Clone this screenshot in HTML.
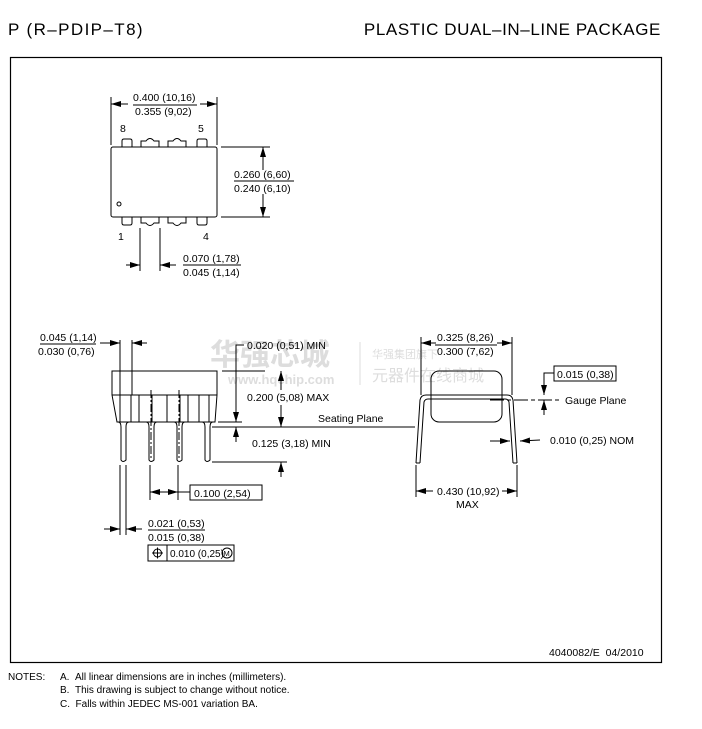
<!DOCTYPE html>
<html><head><meta charset="utf-8"><style>
html,body{margin:0;padding:0;background:#fff;}
svg{display:block;font-family:"Liberation Sans",sans-serif;}
text{fill:#000;font-size:10.5px;}
.h{font-size:17px;letter-spacing:1.2px;}
.wm{fill:#ddd;font-family:"Liberation Sans","Noto Sans CJK SC",sans-serif;}
</style></head><body>
<svg width="702" height="729" viewBox="0 0 702 729" xmlns="http://www.w3.org/2000/svg">
<defs>
<marker id="a" markerWidth="10" markerHeight="6" refX="10" refY="3" orient="auto" markerUnits="userSpaceOnUse"><path d="M0,0 L10,3 L0,6z" fill="#000"/></marker>
</defs>
<text class="h" x="8" y="35" style="letter-spacing:1.4px">P (R–PDIP–T8)</text>
<text class="h" x="661" y="35" text-anchor="end" style="letter-spacing:0.6px">PLASTIC DUAL–IN–LINE PACKAGE</text>
<rect x="10.5" y="57.5" width="651" height="605" fill="none" stroke="#000" stroke-width="1.2"/>

<!-- watermark -->
<text class="wm" x="210" y="365" style="font-size:30px;font-weight:bold">华强芯城</text>
<text class="wm" x="228" y="384" style="font-size:13px;font-weight:bold">www.hqchip.com</text>
<line x1="360" y1="342" x2="360" y2="385" stroke="#ddd"/>
<text class="wm" x="372" y="358" style="font-size:11px">华强集团旗下</text>
<text class="wm" x="372" y="381" style="font-size:16px">元器件在线商城</text>

<g fill="none" stroke="#000" stroke-width="1">
<!-- top view -->
<rect x="111" y="147" width="106" height="70" rx="2"/>
<path d="M122,147 v-6 q0,-2 2,-2 h6 q2,0 2,2 v6"/>
<path d="M141,147 v-6 h5 q4,-5 8,0 h5 v6"/>
<path d="M168,147 v-6 h5 q4,-5 8,0 h5 v6"/>
<path d="M197,147 v-6 q0,-2 2,-2 h6 q2,0 2,2 v6"/>
<path d="M122,217 v6 q0,2 2,2 h6 q2,0 2,-2 v-6"/>
<path d="M141,217 v6 h5 q4,5 8,0 h5 v-6"/>
<path d="M168,217 v6 h5 q4,5 8,0 h5 v-6"/>
<path d="M197,217 v6 q0,2 2,2 h6 q2,0 2,-2 v-6"/>
<circle cx="119" cy="204" r="2"/>
<line x1="111" y1="97" x2="111" y2="145"/><line x1="217" y1="97" x2="217" y2="145"/>
<line x1="128" y1="104" x2="111" y2="104" marker-end="url(#a)"/>
<line x1="200" y1="104" x2="217" y2="104" marker-end="url(#a)"/>
<line x1="221" y1="147" x2="270" y2="147"/><line x1="221" y1="217" x2="270" y2="217"/>
<line x1="263" y1="170" x2="263" y2="147" marker-end="url(#a)"/>
<line x1="263" y1="194" x2="263" y2="217" marker-end="url(#a)"/>
<line x1="140" y1="228" x2="140" y2="271"/><line x1="160" y1="228" x2="160" y2="271"/>
<line x1="126" y1="265" x2="140" y2="265" marker-end="url(#a)"/>
<line x1="176" y1="265" x2="160" y2="265" marker-end="url(#a)"/>
<line x1="133" y1="105" x2="197" y2="105"/>
<line x1="234" y1="181" x2="294" y2="181"/>
<line x1="183" y1="265" x2="241" y2="265"/>

<!-- side view -->
<path d="M112,371 H217 V395 L215,422 H117 L112,395 Z"/>
<line x1="112" y1="395" x2="217" y2="395"/>
<path d="M120,395 V422 M131,395 V422 M139,395 V422 M152,395 V422 M167,395 V422 M180,395 V422 M188,395 V422 M199,395 V422 M209,395 V422"/>
<path d="M118,422 q3,0 3,5 V460 q2,3 5,0 V427 q0,-5 3,-5"/>
<path d="M146,422 q3,0 3,5 V460 q2,3 5,0 V427 q0,-5 3,-5"/>
<path d="M174,422 q3,0 3,5 V460 q2,3 5,0 V427 q0,-5 3,-5"/>
<path d="M202,422 q3,0 3,5 V460 q2,3 5,0 V427 q0,-5 3,-5"/>
<line x1="151" y1="390" x2="151" y2="460" stroke-dasharray="8,2,2,2"/>
<line x1="179" y1="390" x2="179" y2="460" stroke-dasharray="8,2,2,2"/>
<line x1="120" y1="340" x2="120" y2="395"/><line x1="132" y1="340" x2="132" y2="395"/>
<line x1="100" y1="343" x2="120" y2="343" marker-end="url(#a)"/>
<line x1="147" y1="343" x2="132" y2="343" marker-end="url(#a)"/>
<line x1="40" y1="344" x2="96" y2="344"/>
<path d="M244,345 H236 V422" marker-end="url(#a)"/>
<line x1="222" y1="371" x2="265" y2="371"/>
<line x1="218" y1="422" x2="242" y2="422"/>
<line x1="212" y1="427" x2="415" y2="427"/>
<line x1="281" y1="390" x2="281" y2="371" marker-end="url(#a)"/>
<line x1="281" y1="405" x2="281" y2="427" marker-end="url(#a)"/>
<line x1="236" y1="442" x2="236" y2="427" marker-end="url(#a)"/>
<line x1="212" y1="462" x2="287" y2="462"/>
<line x1="281" y1="477" x2="281" y2="462" marker-end="url(#a)"/>
<line x1="150" y1="465" x2="150" y2="500"/><line x1="178" y1="465" x2="178" y2="500"/>
<line x1="164" y1="492" x2="150" y2="492" marker-end="url(#a)"/>
<line x1="164" y1="492" x2="178" y2="492" marker-end="url(#a)"/>
<line x1="178" y1="492" x2="190" y2="492"/>
<rect x="190" y="485" width="72" height="15"/>
<line x1="120" y1="465" x2="120" y2="535"/><line x1="126" y1="465" x2="126" y2="535"/>
<line x1="104" y1="529" x2="120" y2="529" marker-end="url(#a)"/>
<line x1="142" y1="529" x2="126" y2="529" marker-end="url(#a)"/>
<line x1="148" y1="530" x2="205" y2="530"/>
<rect x="148" y="545" width="86" height="16"/>
<line x1="167" y1="545" x2="167" y2="561"/>
<circle cx="157.5" cy="553" r="4"/><line x1="152" y1="553" x2="163" y2="553"/><line x1="157.5" y1="547.5" x2="157.5" y2="558.5"/>
<circle cx="227" cy="553" r="5"/>

<!-- end view -->
<rect x="431" y="371" width="71" height="51" rx="8"/>
<path d="M416,463 L420,400 Q421,395 426,395 H507 Q512,395 513,400 L517,463"/>
<path d="M420,463 L424,402 Q425,399 428,399 H505 Q508,399 509,402 L513,463"/>
<line x1="416" y1="463" x2="420" y2="463"/><line x1="513" y1="463" x2="517" y2="463"/>
<line x1="421" y1="337" x2="421" y2="395"/><line x1="512" y1="337" x2="512" y2="395"/>
<line x1="436" y1="343" x2="421" y2="343" marker-end="url(#a)"/>
<line x1="497" y1="343" x2="512" y2="343" marker-end="url(#a)"/>
<line x1="435" y1="345" x2="497" y2="345"/>
<rect x="554" y="366" width="62" height="15"/>
<path d="M554,373 H544 V395" marker-end="url(#a)"/>
<line x1="544" y1="415" x2="544" y2="400" marker-end="url(#a)"/>
<line x1="490" y1="400" x2="560" y2="400" stroke-dasharray="14,3,4,3"/>
<line x1="490" y1="441" x2="510" y2="441" marker-end="url(#a)"/>
<line x1="540" y1="440" x2="520" y2="441" marker-end="url(#a)"/>
<line x1="416" y1="465" x2="416" y2="497"/><line x1="517" y1="465" x2="517" y2="497"/>
<line x1="433" y1="491" x2="416" y2="491" marker-end="url(#a)"/>
<line x1="502" y1="491" x2="517" y2="491" marker-end="url(#a)"/>
<line x1="400" y1="427" x2="415" y2="427"/>
</g>

<text x="133" y="101">0.400 (10,16)</text>
<text x="135" y="115">0.355 (9,02)</text>
<text x="120" y="132">8</text><text x="198" y="132">5</text>
<text x="118" y="240">1</text><text x="203" y="240">4</text>
<text x="234" y="178">0.260 (6,60)</text>
<text x="234" y="192">0.240 (6,10)</text>
<text x="183" y="262">0.070 (1,78)</text>
<text x="183" y="276">0.045 (1,14)</text>

<text x="40" y="341">0.045 (1,14)</text>
<text x="38" y="355">0.030 (0,76)</text>
<text x="247" y="349">0.020 (0,51) MIN</text>
<text x="247" y="401">0.200 (5,08) MAX</text>
<text x="318" y="422">Seating Plane</text>
<text x="252" y="447">0.125 (3,18) MIN</text>
<text x="194" y="497">0.100 (2,54)</text>
<text x="148" y="527">0.021 (0,53)</text>
<text x="148" y="541">0.015 (0,38)</text>
<text x="170" y="557" style="font-size:10px">0.010 (0,25)</text>
<text x="223.5" y="556" style="font-size:7.5px">M</text>

<text x="437" y="341">0.325 (8,26)</text>
<text x="437" y="355">0.300 (7,62)</text>
<text x="557" y="378">0.015 (0,38)</text>
<text x="565" y="404">Gauge Plane</text>
<text x="550" y="444">0.010 (0,25) NOM</text>
<text x="437" y="495">0.430 (10,92)</text>
<text x="456" y="508">MAX</text>

<text x="549" y="656">4040082/E&#160;&#160;04/2010</text>
<text x="8" y="680" style="font-size:10px">NOTES:</text>
<text x="60" y="680" style="font-size:10px">A.&#160;&#160;All linear dimensions are in inches (millimeters).</text>
<text x="60" y="693" style="font-size:10px">B.&#160;&#160;This drawing is subject to change without notice.</text>
<text x="60" y="707" style="font-size:10px">C.&#160;&#160;Falls within JEDEC MS-001 variation BA.</text>
</svg>
</body></html>
